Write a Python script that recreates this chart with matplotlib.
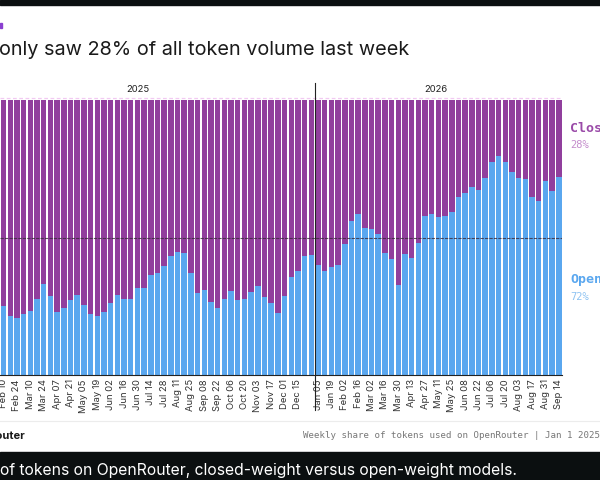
import matplotlib.pyplot as plt
from matplotlib.lines import Line2D
from matplotlib.patches import Rectangle

# weekly open-weight share (%), Feb 10 2025 .. Dec 29 2025
open_2025 = [25.2, 21.5, 20.8, 22.2, 23.3, 27.5, 33.0, 28.8, 22.9, 24.5, 27.3, 29.1,
             25.5, 22.2, 21.6, 22.8, 26.1, 29.1, 27.5, 27.5, 31.5, 31.6, 36.4, 37.0,
             39.6, 43.3, 44.6, 44.2, 37.0, 29.7, 30.9, 26.7, 24.2, 27.5, 30.5, 27.3,
             27.5, 30.1, 32.5, 28.5, 26.1, 22.4, 28.7, 35.8, 37.8, 43.4, 43.8]
# Jan 05 2026 .. Sep 14 2026
open_2026 = [40.0, 37.9, 39.4, 39.9, 47.5, 56.0, 58.4, 53.3, 53.0, 51.2, 44.2, 42.2,
             32.7, 44.1, 42.4, 47.9, 57.8, 58.4, 57.6, 57.8, 59.3, 64.6, 66.3, 68.5,
             67.3, 71.6, 77.3, 79.8, 77.6, 74.0, 71.5, 71.2, 64.8, 63.2, 70.4, 67.0, 72.0]

ticks_2025 = ['Feb 10', 'Feb 24', 'Mar 10', 'Mar 24', 'Apr 07', 'Apr 21', 'May 05',
              'May 19', 'Jun 02', 'Jun 16', 'Jun 30', 'Jul 14', 'Jul 28', 'Aug 11',
              'Aug 25', 'Sep 08', 'Sep 22', 'Oct 06', 'Oct 20', 'Nov 03', 'Nov 17',
              'Dec 01', 'Dec 15']
ticks_2026 = ['Jan 05', 'Jan 19', 'Feb 02', 'Feb 16', 'Mar 02', 'Mar 16', 'Mar 30',
              'Apr 13', 'Apr 27', 'May 11', 'May 25', 'Jun 08', 'Jun 22', 'Jul 06',
              'Jul 20', 'Aug 03', 'Aug 17', 'Aug 31', 'Sep 14']

open_share = open_2025 + open_2026
closed_share = [100 - v for v in open_share]
x = list(range(len(open_share)))
n25 = len(open_2025)
tick_pos = list(range(0, 2 * len(ticks_2025), 2)) + \
    list(range(n25, n25 + 2 * len(ticks_2026), 2))

PURPLE = '#913f9d'
BLUE = '#5aa7ef'
W, H = 600, 480


def fx(px):
    return px / W


def fy(py):
    return 1 - py / H


fig = plt.figure(figsize=(6, 4.8), dpi=100, facecolor='white')

# black bands of the screenshot
fig.patches.append(Rectangle((0, fy(5)), 1, 5 / H, transform=fig.transFigure,
                             color='#0b0f10', zorder=0))
fig.patches.append(Rectangle((0, 0), 1, 28 / H, transform=fig.transFigure,
                             color='#0b0f10', zorder=0))
fig.patches.append(Rectangle((0, fy(28)), 2 / W, 5 / H, transform=fig.transFigure,
                             color='#8a3fd0', zorder=1))

ax = fig.add_axes([fx(0.26), fy(375), fx(561.9), 275 / H])
ax.bar(x, open_share, width=0.82, color=BLUE, linewidth=0)
ax.bar(x, closed_share, bottom=open_share, width=0.82, color=PURPLE, linewidth=0)
ax.axhline(50, color='#3a2a3a', lw=0.8, dashes=(3, 1), alpha=0.8)
ax.axhline(100.8, color='#f2c9f2', lw=0.9, dashes=(3, 2), clip_on=False)
ax.set_xlim(-0.5, len(open_share) - 0.5)
ax.set_ylim(0, 100)
ax.set_yticks([])
ax.set_xticks(tick_pos)
ax.set_xticklabels(ticks_2025 + ticks_2026, rotation=90, fontsize=6.8,
                   color='#333333', family='Inter')
ax.tick_params(axis='x', length=0, pad=3)
for s in ['top', 'right', 'left']:
    ax.spines[s].set_visible(False)
ax.spines['bottom'].set_color('#222222')
ax.spines['bottom'].set_linewidth(0.8)

# year divider
fig.add_artist(Line2D([fx(314.7), fx(314.7)], [fy(83), fy(410)],
                      color='#222222', lw=0.8))
fig.text(fx(138), fy(90), '2025', ha='center', va='center', fontsize=6.8,
         color='#222222', family='Inter')
fig.text(fx(436), fy(90), '2026', ha='center', va='center', fontsize=6.8,
         color='#222222', family='Inter')

fig.text(fx(-1), fy(50), 'only saw 28% of all token volume last week', ha='left',
         va='center', fontsize=14.3, color='#1a1a1a', family='Inter')

fig.text(fx(570), fy(128), 'Closed', ha='left', va='center', fontsize=9.5,
         fontweight='bold', color='#9a4aa8', family='DejaVu Sans Mono')
fig.text(fx(570), fy(145), '28%', ha='left', va='center', fontsize=7.5,
         color='#c48dcc', family='DejaVu Sans Mono')
fig.text(fx(570), fy(280), 'Open', ha='left', va='center', fontsize=9.5,
         fontweight='bold', color='#5aa7ef', family='DejaVu Sans Mono')
fig.text(fx(570), fy(297), '72%', ha='left', va='center', fontsize=7.5,
         color='#8ec3f2', family='DejaVu Sans Mono')

fig.add_artist(Line2D([0, 1], [fy(421), fy(421)], color='#ececec', lw=0.8))
fig.text(fx(-40), fy(436), 'OpenRouter', ha='left', va='center', fontsize=8,
         fontweight='bold', color='#1a1a1a', family='Inter')
fig.text(fx(303), fy(436), 'Weekly share of tokens used on OpenRouter | Jan 1 2025 - Sep 14 2026',
         ha='left', va='center', fontsize=6.6, color='#777777',
         family='DejaVu Sans Mono')

fig.text(fx(0), fy(471), 'of tokens on OpenRouter, closed-weight versus open-weight models.',
         ha='left', va='center', fontsize=11.3, color='white', family='Inter')

fig.savefig('out.png', dpi=100, facecolor='white')
